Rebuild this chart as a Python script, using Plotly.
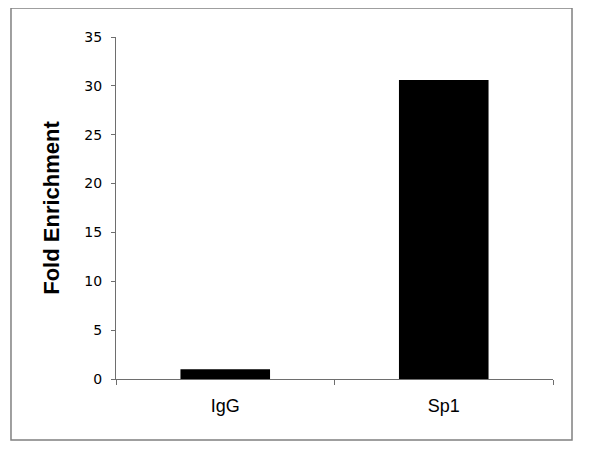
import plotly.graph_objects as go

categories = ["IgG", "Sp1"]
fold_enrichment = [1.0, 30.6]
y_ticks = [0, 5, 10, 15, 20, 25, 30, 35]

fig = go.Figure()
fig.add_trace(go.Bar(
    x=categories, y=fold_enrichment,
    marker=dict(color="#000000", line=dict(width=0)),
    width=0.41,
))

axis_color = "#6e6e6e"
fig.update_layout(
    width=600, height=450,
    margin=dict(l=108, r=55, t=29, b=79, autoexpand=False),
    paper_bgcolor="white", plot_bgcolor="white",
    showlegend=False,
    font=dict(family="Liberation Sans, Arial, sans-serif", color="black"),
    xaxis=dict(
        range=[-0.5, 1.5], showline=True, linecolor=axis_color, linewidth=1,
        ticks="outside", tickson="boundaries", ticklen=5, tickcolor=axis_color,
        tickfont=dict(size=18), showgrid=False, zeroline=False,
        ticklabelstandoff=10,
    ),
    yaxis=dict(
        range=[0, 35], tickvals=y_ticks, showline=True, linecolor=axis_color, linewidth=1,
        ticks="outside", ticklen=4, tickcolor=axis_color,
        tickfont=dict(size=14, family="DejaVu Sans, sans-serif"), showgrid=False, zeroline=False,
        ticklabelstandoff=6,
        title=dict(text="<b>Fold Enrichment</b>", font=dict(size=22), standoff=18),
    ),
    shapes=[dict(
        type="rect", xref="paper", yref="paper",
        x0=-0.2403, x1=1.0435, y0=-0.1784, y1=1.0848,
        line=dict(color="#808080", width=1.5), fillcolor="rgba(0,0,0,0)", layer="below",
    )],
)

fig.write_html("out.html")
